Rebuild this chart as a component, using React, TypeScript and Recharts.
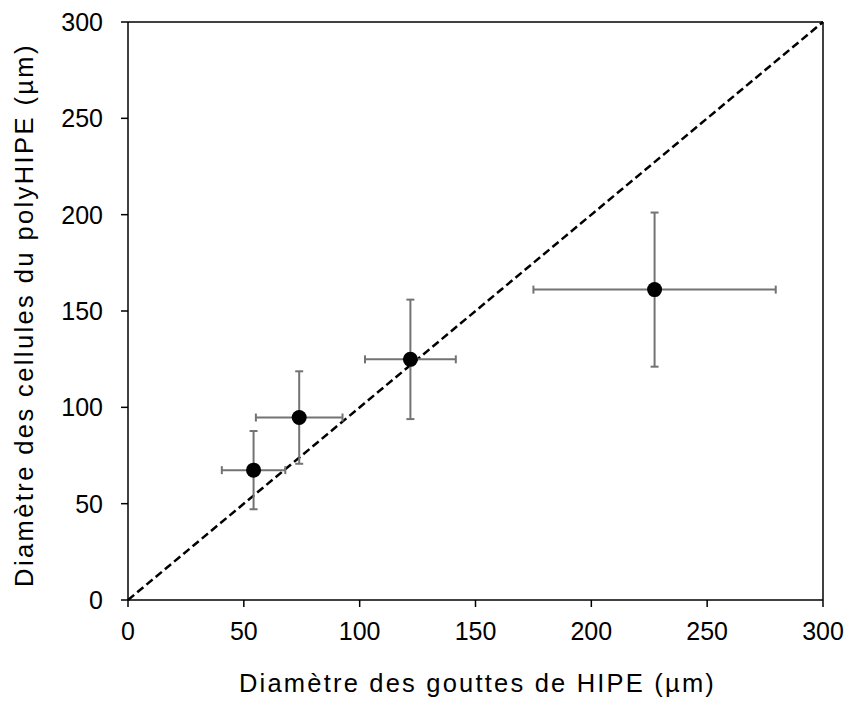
import React from "react";
import {
  ScatterChart,
  Scatter,
  XAxis,
  YAxis,
  ErrorBar,
  ReferenceLine,
  Label,
} from "recharts";

const dropDiameter = [54.2, 73.9, 121.9, 227.3];
const cellDiameter = [67.4, 94.7, 124.9, 161.1];
const dropError = [13.7, 18.7, 19.6, 52.3];
const cellError = [20.3, 24.0, 31.0, 40.0];
const axisTicks = [0, 50, 100, 150, 200, 250, 300];
const xTitle = "Diamètre des gouttes de HIPE (µm)";
const yTitle = "Diamètre des cellules du polyHIPE (µm)";

const data = dropDiameter.map((x, i) => ({
  x,
  y: cellDiameter[i],
  ex: dropError[i],
  ey: cellError[i],
}));

const FONT = "'Liberation Sans', Arial, sans-serif";
const TICK_SIZE = 25;
const TITLE_SIZE = 25.5;

const XTick = (props: any) => {
  const { x, y, payload } = props;
  return (
    <text
      x={x}
      y={y + 33}
      textAnchor="middle"
      fontFamily={FONT}
      fontSize={TICK_SIZE}
      fill="#000"
    >
      {payload.value}
    </text>
  );
};

const YTick = (props: any) => {
  const { x, y, payload } = props;
  return (
    <text
      x={x - 18}
      y={y + 9}
      textAnchor="end"
      fontFamily={FONT}
      fontSize={TICK_SIZE}
      fill="#000"
    >
      {payload.value}
    </text>
  );
};

const XTitle = (props: any) => {
  const vb = props.viewBox;
  const cx = vb.x + vb.width / 2 + 2;
  const by = vb.y + 92;
  return (
    <text
      x={cx}
      y={by}
      textAnchor="middle"
      fontFamily={FONT}
      fontSize={TITLE_SIZE}
      letterSpacing={2.2}
      fill="#000"
    >
      {xTitle}
    </text>
  );
};

const YTitle = (props: any) => {
  const vb = props.viewBox;
  const cy = vb.y + vb.height / 2 + 4;
  const bx = 33;
  return (
    <text
      transform={`translate(${bx},${cy}) rotate(-90)`}
      textAnchor="middle"
      fontFamily={FONT}
      fontSize={TITLE_SIZE}
      letterSpacing={2.4}
      fill="#000"
    >
      {yTitle}
    </text>
  );
};

const Dot = (props: any) => {
  const { cx, cy } = props;
  return <circle cx={cx} cy={cy} r={7.5} fill="#000" />;
};

export default function App() {
  return (
    <div style={{ position: "absolute", left: 0, top: 0, background: "#fff" }}>
      <ScatterChart
        width={845}
        height={701}
        margin={{ top: 22, right: 22, bottom: 0, left: 0 }}
      >
        <XAxis
          type="number"
          dataKey="x"
          domain={[0, 300]}
          ticks={axisTicks}
          height={101}
          tickSize={7}
          tickMargin={0}
          stroke="#000"
          strokeWidth={1.5}
          tickLine={{ stroke: "#000", strokeWidth: 1.5 }}
          tick={<XTick />}
          allowDataOverflow
        >
          <Label content={<XTitle />} position="bottom" />
        </XAxis>
        <YAxis
          type="number"
          dataKey="y"
          domain={[0, 300]}
          ticks={axisTicks}
          width={128}
          tickSize={7}
          tickMargin={0}
          stroke="#000"
          strokeWidth={1.5}
          tickLine={{ stroke: "#000", strokeWidth: 1.5 }}
          tick={<YTick />}
          allowDataOverflow
        >
          <Label content={<YTitle />} position="left" />
        </YAxis>
        <ReferenceLine y={300} stroke="#000" strokeWidth={1.5} />
        <ReferenceLine x={300} stroke="#000" strokeWidth={1.5} />
        <ReferenceLine
          segment={[
            { x: 0, y: 0 },
            { x: 300, y: 300 },
          ]}
          stroke="#000"
          strokeWidth={2.5}
          strokeDasharray="8 4"
        />
        <Scatter data={data} shape={<Dot />} isAnimationActive={false}>
          <ErrorBar
            dataKey="ex"
            direction="x"
            width={4}
            stroke="#737373"
            strokeWidth={2}
            isAnimationActive={false}
          />
          <ErrorBar
            dataKey="ey"
            direction="y"
            width={4}
            stroke="#737373"
            strokeWidth={2}
            isAnimationActive={false}
          />
        </Scatter>
      </ScatterChart>
    </div>
  );
}
